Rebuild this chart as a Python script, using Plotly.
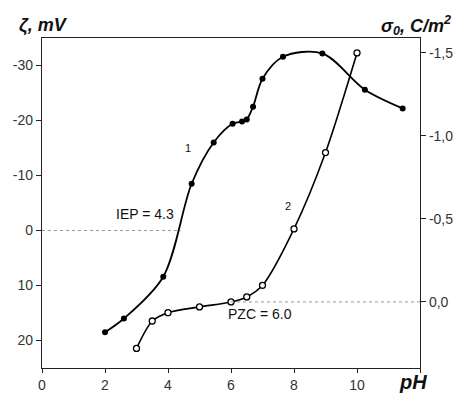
import plotly.graph_objects as go

# Curve 1: zeta potential vs pH (left axis)
ph_zeta = [2.0, 2.6, 3.85, 4.75, 5.45, 6.05, 6.35, 6.5, 6.7, 7.0, 7.65, 8.9, 10.25, 11.45]
zeta_mv = [18.5, 16.0, 8.4, -8.5, -16.0, -19.4, -19.8, -20.2, -22.5, -27.6, -31.6, -32.2, -25.6, -22.2]

# Curve 2: surface charge density vs pH (right axis)
ph_sigma = [3.0, 3.5, 4.0, 5.0, 6.0, 6.5, 7.0, 8.0, 9.0, 10.0]
sigma_c = [0.28, 0.115, 0.065, 0.03, 0.0, -0.03, -0.10, -0.44, -0.90, -1.50]

x_ticks = [0, 2, 4, 6, 8, 10, 12]
x_labels = ["0", "2", "4", "6", "8", "10", ""]
zeta_ticks = [-30, -20, -10, 0, 10, 20]
zeta_labels = ["-30", "-20", "-10", "0", "10", "20"]
sigma_ticks = [-1.5, -1.0, -0.5, 0.0]
sigma_labels = ["-1,5", "-1,0", "-0,5", "0,0"]

iep = 4.4
pzc = 6.0

FONT = "Liberation Sans, Arial"
tick_font = dict(family=FONT, size=14, color="#333")
ann_font = dict(family=FONT, size=14, color="#111")
title_font = dict(family=FONT, size=18, color="#111")

fig = go.Figure()

fig.add_trace(go.Scatter(
    x=ph_zeta, y=zeta_mv, mode="lines+markers",
    line=dict(color="#000", width=1.8, shape="spline", smoothing=0.9),
    marker=dict(symbol="circle", size=6, color="#000"),
    yaxis="y", showlegend=False,
))

fig.add_trace(go.Scatter(
    x=ph_sigma, y=sigma_c, mode="lines+markers",
    line=dict(color="#000", width=1.6, shape="spline", smoothing=0.8),
    marker=dict(symbol="circle", size=6, color="#fff", line=dict(color="#000", width=1.3)),
    yaxis="y2", showlegend=False,
))

# Dashed reference lines at IEP and PZC
fig.add_shape(type="line", xref="x", yref="y", x0=0, x1=iep, y0=0, y1=0,
              line=dict(color="#999", width=1, dash="dot"))
fig.add_shape(type="line", xref="x", yref="y2", x0=pzc, x1=12, y0=0, y1=0,
              line=dict(color="#999", width=1, dash="dot"))

W, H = 459, 396
L, R, T, B = 42, 39, 38, 28
pw, ph_ = W - L - R, H - T - B


def px_x(x):
    return (x - L) / pw


def px_y(y):
    return (H - B - y) / ph_


annotations = [
    dict(x=4.25, y=-3.0, xref="x", yref="y", text="IEP = 4.3", showarrow=False,
         xanchor="right", yanchor="middle", font=ann_font),
    dict(x=5.85, y=0.07, xref="x", yref="y2", text="PZC = 6.0", showarrow=False,
         xanchor="left", yanchor="middle", font=ann_font),
    dict(x=4.63, y=-15, xref="x", yref="y", text="1", showarrow=False,
         font=dict(family=FONT, size=11, color="#111")),
    dict(x=7.8, y=-0.58, xref="x", yref="y2", text="2", showarrow=False,
         font=dict(family=FONT, size=11, color="#111")),
    dict(x=px_x(17), y=px_y(25), xref="paper", yref="paper",
         text="<b><i>ζ, mV</i></b>", showarrow=False, font=title_font,
         xanchor="left", yanchor="middle"),
    dict(x=px_x(453), y=px_y(25), xref="paper", yref="paper",
         text="<b><i>σ<sub>0</sub>, C/m<sup>2</sup></i></b>", showarrow=False,
         font=title_font, xanchor="right", yanchor="middle"),
    dict(x=px_x(413), y=px_y(382), xref="paper", yref="paper",
         text="<b><i>pH</i></b>", showarrow=False,
         font=dict(family=FONT, size=20, color="#111"),
         xanchor="center", yanchor="middle"),
]

axis_common = dict(showgrid=False, zeroline=False, showline=True, linecolor="#222",
                   linewidth=1.2, ticks="outside", tickcolor="#222",
                   tickfont=tick_font, automargin=False)

fig.update_layout(
    width=W, height=H,
    margin=dict(l=L, r=R, t=T, b=B, autoexpand=False),
    paper_bgcolor="#fff", plot_bgcolor="#fff",
    annotations=annotations,
    xaxis=dict(range=[0, 12], tickvals=x_ticks, ticktext=x_labels, mirror=True,
               ticklen=4, **axis_common),
    yaxis=dict(range=[25, -35], tickvals=zeta_ticks, ticktext=zeta_labels,
               ticklen=5, **axis_common),
    yaxis2=dict(range=[0.398, -1.59], tickvals=sigma_ticks, ticktext=sigma_labels,
                overlaying="y", side="right", ticklen=5, **axis_common),
)

fig.write_html("out.html")
